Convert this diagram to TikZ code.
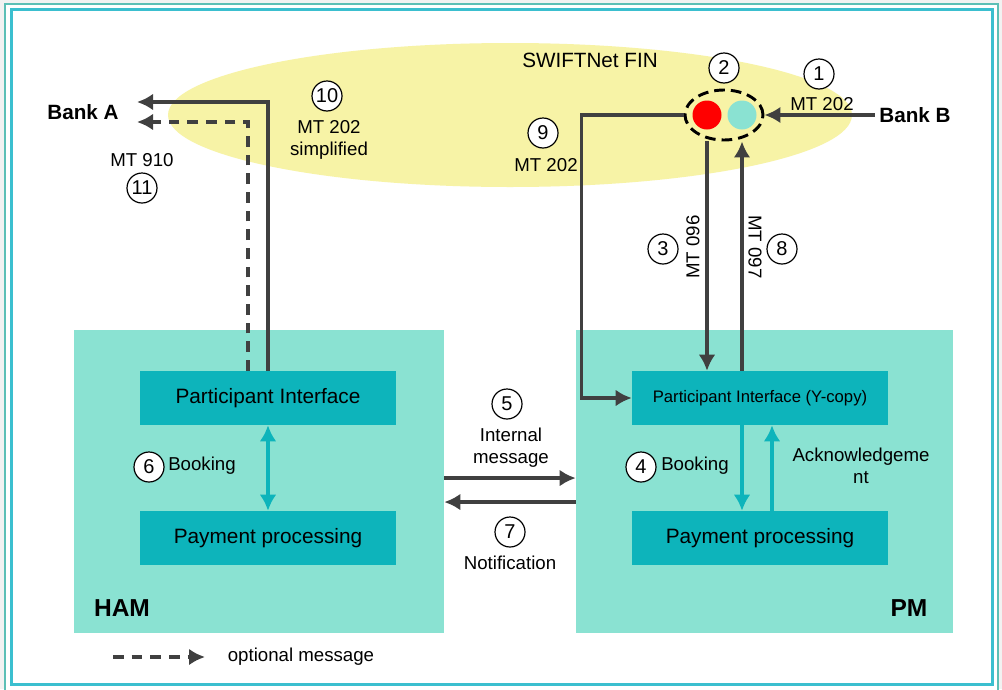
\documentclass[tikz,border=0pt]{standalone}
\usepackage{fontspec}
\setmainfont{Liberation Sans}
\usetikzlibrary{shapes,arrows.meta}
\definecolor{swiftyellow}{HTML}{F7F3A6}
\definecolor{modulegreen}{HTML}{8AE2D2}
\definecolor{blockteal}{HTML}{0DB4BB}
\definecolor{framecyan}{HTML}{3BBFCF}
\definecolor{frameteal}{HTML}{5CBFB6}
\definecolor{msggray}{HTML}{404040}
\tikzset{
	module/.style   = {fill = modulegreen, minimum width = 370*0.75pt, minimum height = 303*0.75pt},
	block/.style    = {fill = blockteal, minimum width = 256*0.75pt, minimum height = 54*0.75pt,
		font = \fontsize{15.6}{18}\selectfont},
	num/.style      = {draw, circle, line width = 0.9pt, fill = white, minimum size = 22.5pt, inner sep = 0pt,
		font = \fontsize{15}{17}\selectfont},
	dot/.style      = {circle, minimum size = 21.75pt, inner sep = 0pt},
	msg/.style      = {->, draw = msggray, line width = 2.4pt},
	book/.style     = {->, draw = blockteal, line width = 2.4pt},
	optional/.style = {dash pattern = on 8pt off 6pt}
}
\newcommand{\bigbold}[1]{\fontsize{15.5}{18}\selectfont\bfseries #1}

\begin{document}
\begin{tikzpicture}[x = 0.75pt, y = -0.75pt, >={Latex[length=12pt, width=12.5pt]},
	font = \fontsize{14}{16.5}\selectfont]
	\useasboundingbox (0,0) rectangle (1002,689);
	% frame
	\fill[black!5] (0,0) rectangle (1002,689);
	\filldraw[fill = white, draw = frameteal, line width = 1.8pt] (5,4) rectangle (998,700);
	\draw[framecyan, line width = 2.4pt] (11.5,9.5) rectangle (992.5,684.5);

	% SWIFTNet FIN
	\draw
	node at (510,115)[ellipse, fill = swiftyellow, minimum width = 684*0.75pt, minimum height = 144*0.75pt] (swift) {}
	node at (590,60) {\fontsize{15.5}{18}\selectfont SWIFTNet FIN}
	node at (707,115)[dot, fill = red] (rdot) {}
	node at (742,115)[dot, fill = modulegreen] (cdot) {}
	node at (724,115)[ellipse, draw, line width = 2.2pt, dash pattern = on 8pt off 4.5pt,
		minimum width = 78*0.75pt, minimum height = 50*0.75pt] (queue) {};

	% banks
	\draw
	node at (83,112) (bankA) {\bigbold{Bank A}}
	node at (915,115) (bankB) {\bigbold{Bank B}};
	\coordinate (a10) at (137,102);
	\coordinate (a11) at (137,122);

	% modules
	\draw
	node at (259,481.5)[module] (ham) {}
	node at (764.5,481.5)[module, minimum width = 377*0.75pt] (pm) {}
	node at (122,608) {\fontsize{18.4}{20}\selectfont\bfseries HAM}
	node at (909,608) {\fontsize{18.4}{20}\selectfont\bfseries PM}
	node at (268,398)[block] (hampi) {Participant Interface}
	node at (268,538)[block] (hampp) {Payment processing}
	node at (760,398)[block] (pmpi) {\fontsize{12.5}{15}\selectfont Participant Interface (Y-copy)}
	node at (760,538)[block] (pmpp) {Payment processing};

	% message labels
	\draw
	node at (819,74)[num] {1} node at (822,104) {MT 202}
	node at (724,68)[num] {2}
	node at (663,249)[num] {3} node at (693,247)[rotate = 90] {MT 096}
	node at (782,249)[num] {8} node at (755,247)[rotate = -90] {MT 097}
	node at (543,133)[num] {9} node at (546,165) {MT 202}
	node at (327,96)[num] {10} node at (329,140)[align = center] {MT 202\\simplified}
	node at (142,160) {MT 910} node at (142,188)[num] {11}
	node at (149,467)[num] {6} node at (202,466) {Booking}
	node at (641,467)[num] {4} node at (695,466) {Booking}
	node at (861,466)[align = center] {Acknowledgeme\\nt}
	node at (507,404)[num] {5} node at (511,448)[align = center] {Internal\\message}
	node at (510,532)[num] {7} node at (510,563) {Notification};

	% connectors
	\draw[msg] (bankB) -- (queue);
	\draw[msg] (queue.west) -- ++(-102,0) |- (pmpi.west);
	\draw[msg] (queue.south -| rdot) -- (pmpi.north -| rdot);
	\draw[msg] (pmpi.north -| cdot) -- (queue.south -| cdot);
	\draw[msg] (hampi.north) |- (a10);
	\draw[msg, optional] ([xshift = -15pt]hampi.north) |- (a11);
	\draw[book, <->] (hampi) -- (hampp);
	\draw[book] ([xshift = -13.5pt]pmpi.south) -- ([xshift = -13.5pt]pmpp.north);
	\draw[book] ([xshift = 9pt]pmpp.north) -- ([xshift = 9pt]pmpi.south);
	\draw[msg] ([yshift = 2.6pt]ham.east) -- ([yshift = 2.6pt]pm.west);
	\draw[msg] ([yshift = -15.4pt]pm.west) -- ([yshift = -15.4pt]ham.east);

	% legend
	\coordinate (leg1) at (113,657);
	\coordinate (leg2) at (205,657);
	\draw[msg, optional] (leg1) -- (leg2);
	\node at (301,657) (legtext) {optional message};
\end{tikzpicture}
\end{document}
